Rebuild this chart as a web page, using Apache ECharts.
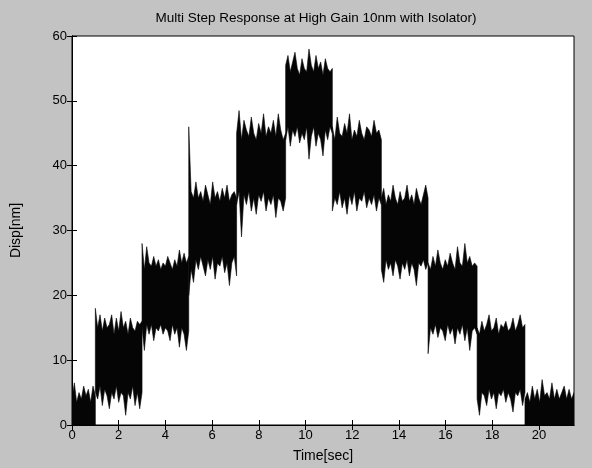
<!DOCTYPE html>
<html>
<head>
<meta charset="utf-8">
<script src="https://cdn.jsdelivr.net/npm/echarts@6/dist/echarts.min.js"></script>
<style>
  html, body { margin: 0; padding: 0; background: #c3c3c3; }
  #chart { width: 592px; height: 468px; }
</style>
</head>
<body>
<div id="chart"></div>
<script>
// Tick positions
const xTicks = [0, 2, 4, 6, 8, 10, 12, 14, 16, 18, 20];
const yTicks = [0, 10, 20, 30, 40, 50, 60];

// Each step of the response: start and end time [sec]
const stepStart = [0, 1.0, 3.0, 5.0, 7.05, 9.15, 11.15, 13.25, 15.25, 17.35, 19.4];
const stepEnd   = [1.0, 3.0, 5.0, 7.05, 9.15, 11.15, 13.25, 15.25, 17.35, 19.4, 21.5];

// Upper envelope of the noisy displacement within each step [nm]
const upper = [
  [4, 6.5, 3.5, 5, 4, 6, 4.5, 5.5, 3.5, 6, 4.5],
  [18, 15, 17, 14.5, 16.5, 15, 15.5, 17, 14, 16.5, 14.5, 17.5, 15, 16, 14, 16.5, 15, 14.5, 16, 15.5, 16],
  [28, 24, 27.5, 25, 24.5, 26, 24.5, 25.5, 24, 25, 24.5, 26, 25, 24, 25.5, 24.5, 27, 25, 26.5, 25, 26],
  [46, 36, 35, 37.5, 35, 36, 34.5, 37, 35.5, 34, 37.5, 35, 36, 34.5, 36.5, 35, 37, 34.5, 35.5, 36, 35],
  [45, 48.5, 44, 47, 45.5, 44.5, 47.5, 45, 44, 46.5, 45, 48, 44.5, 46, 45, 47, 44.5, 48, 45.5, 44, 45],
  [55.5, 57, 54.5, 56, 57.5, 55, 54, 56.5, 55, 54.5, 58, 55.5, 54.5, 57, 55, 56, 54, 56.5, 55, 54.5, 55],
  [46, 44, 47.5, 45, 44.5, 46.5, 45, 48, 44, 45.5, 44.5, 47, 45, 44, 46, 45.5, 44.5, 47, 45, 45.5, 44],
  [35, 36.5, 34, 35.5, 34.5, 37, 35, 34, 36, 34.5, 35, 37, 34.5, 35.5, 34, 36.5, 35, 34, 35.5, 37, 35],
  [25, 24, 26, 24.5, 27, 25, 24, 25.5, 24.5, 26.5, 25, 24, 27.5, 25, 24.5, 28, 25, 26, 24.5, 25, 24.5],
  [15, 14, 16, 14.5, 15.5, 17, 14.5, 15, 16.5, 14, 15.5, 15, 16, 14.5, 15, 16.5, 14.5, 15.5, 17, 15, 15.5],
  [4, 5, 3.5, 6, 4, 5.5, 3.5, 7, 4.5, 5, 4, 6.5, 4, 5.5, 4, 5, 6, 4, 5.5, 4, 5]
];

// Lower envelope of the noisy displacement within each step [nm]
const lower = [
  [0, 0, 0, 0, 0, 0, 0, 0, 0, 0, 0],
  [5, 4, 6, 3, 5.5, 4.5, 2.5, 5, 4, 6, 3.5, 5, 4.5, 1.5, 5, 4, 6, 3, 5, 2.5, 5],
  [15, 11.5, 15.5, 14, 15.5, 13, 15, 14.5, 15.5, 14, 15, 14.5, 13, 15.5, 14, 15, 12, 15, 14, 11.5, 14.5],
  [20, 24, 22, 25.5, 24, 26, 24.5, 23, 25.5, 24, 26, 22.5, 25, 24.5, 26, 23.5, 25, 21.5, 25, 26, 23],
  [34, 36, 29, 35.5, 34, 36, 33, 35, 32.5, 35.5, 34.5, 36, 33, 35, 34, 35.5, 32, 35, 34.5, 33, 35],
  [44, 46, 43, 45.5, 44.5, 46, 43.5, 45, 44, 46, 41, 44.5, 46, 43, 45, 44, 41.5, 45.5, 44, 46, 45],
  [33, 35, 34, 36, 33.5, 35, 32.5, 35.5, 34, 36, 33, 35, 34.5, 36, 33.5, 35, 34, 35.5, 33, 35, 34],
  [24, 22, 25.5, 24, 25, 23, 25.5, 24.5, 22.5, 25, 24, 25.5, 23, 25, 24, 21.5, 25, 24.5, 25.5, 24, 25],
  [11, 15, 14, 15.5, 13.5, 15, 14.5, 13, 15.5, 14, 15, 12.5, 15, 14, 15.5, 13, 15, 11.5, 14.5, 15, 14],
  [4, 1.5, 5, 4.5, 3, 5.5, 4, 5, 2.5, 5, 4.5, 5.5, 3.5, 5, 4, 2, 5, 4.5, 5.5, 3, 5],
  [0, 0, 0, 0, 0, 0, 0, 0, 0, 0, 0, 0, 0, 0, 0, 0, 0, 0, 0, 0, 0]
];

const FONT = 'Liberation Sans, Arial, Helvetica, sans-serif';
const chart = echarts.init(document.getElementById('chart'), null, { renderer: 'canvas' });

const axisLineStyle = { lineStyle: { color: '#000', width: 1 } };
const tickStyle = { inside: true, length: 5, lineStyle: { color: '#000', width: 1 } };
const labelStyle = { fontFamily: FONT, fontSize: 13, color: '#000' };

// Fills the band between upper and lower envelope of one step
function renderStep(params, api) {
  const k = api.value(2);
  const hi = upper[k], lo = lower[k];
  const n = hi.length;
  const t0 = stepStart[k], t1 = stepEnd[k];
  const pts = [];
  for (let i = 0; i < n; i++) {
    pts.push(api.coord([t0 + i * (t1 - t0) / (n - 1), hi[i]]));
  }
  for (let i = n - 1; i >= 0; i--) {
    pts.push(api.coord([t0 + i * (t1 - t0) / (n - 1), lo[i]]));
  }
  return {
    type: 'polygon',
    shape: { points: pts },
    style: { fill: '#050505', stroke: '#050505', lineWidth: 0.6 }
  };
}

chart.setOption({
  backgroundColor: '#c3c3c3',
  animation: false,
  title: {
    text: 'Multi Step Response at High Gain 10nm with Isolator)',
    left: 311, top: 6, textAlign: 'center',
    textStyle: { fontFamily: FONT, fontSize: 13.5, fontWeight: 'normal', color: '#000' }
  },
  grid: { left: 72, right: 18, top: 36, bottom: 41, show: true, backgroundColor: '#fff', borderColor: '#000', borderWidth: 1 },
  xAxis: [
    {
      type: 'value', min: 0, max: 21.5, position: 'bottom',
      name: 'Time[sec]', nameLocation: 'middle', nameGap: 24,
      nameTextStyle: { fontFamily: FONT, fontSize: 14, color: '#000' },
      axisLine: axisLineStyle,
      axisTick: Object.assign({ customValues: xTicks }, tickStyle),
      axisLabel: Object.assign({ customValues: xTicks, margin: 4 }, labelStyle),
      splitLine: { show: false }
    },
    {
      type: 'value', min: 0, max: 21.5, position: 'top',
      axisLine: axisLineStyle,
      axisTick: Object.assign({ customValues: xTicks }, tickStyle),
      axisLabel: { show: false },
      splitLine: { show: false }
    }
  ],
  yAxis: [
    {
      type: 'value', min: 0, max: 60, interval: 10, position: 'left',
      name: 'Disp[nm]', nameLocation: 'middle', nameGap: 49,
      nameTextStyle: { fontFamily: FONT, fontSize: 14, color: '#000' },
      axisLine: axisLineStyle,
      axisTick: Object.assign({ customValues: yTicks }, tickStyle),
      axisLabel: Object.assign({ customValues: yTicks, margin: 5 }, labelStyle),
      splitLine: { show: false }
    },
    {
      type: 'value', min: 0, max: 60, interval: 10, position: 'right',
      axisLine: axisLineStyle,
      axisTick: Object.assign({ customValues: yTicks }, tickStyle),
      axisLabel: { show: false },
      splitLine: { show: false }
    }
  ],
  series: [{
    type: 'custom',
    xAxisIndex: 0, yAxisIndex: 0,
    clip: true,
    renderItem: renderStep,
    encode: { x: [0, 1] },
    data: stepStart.map((s, k) => [s, stepEnd[k], k])
  }]
});
</script>
</body>
</html>
